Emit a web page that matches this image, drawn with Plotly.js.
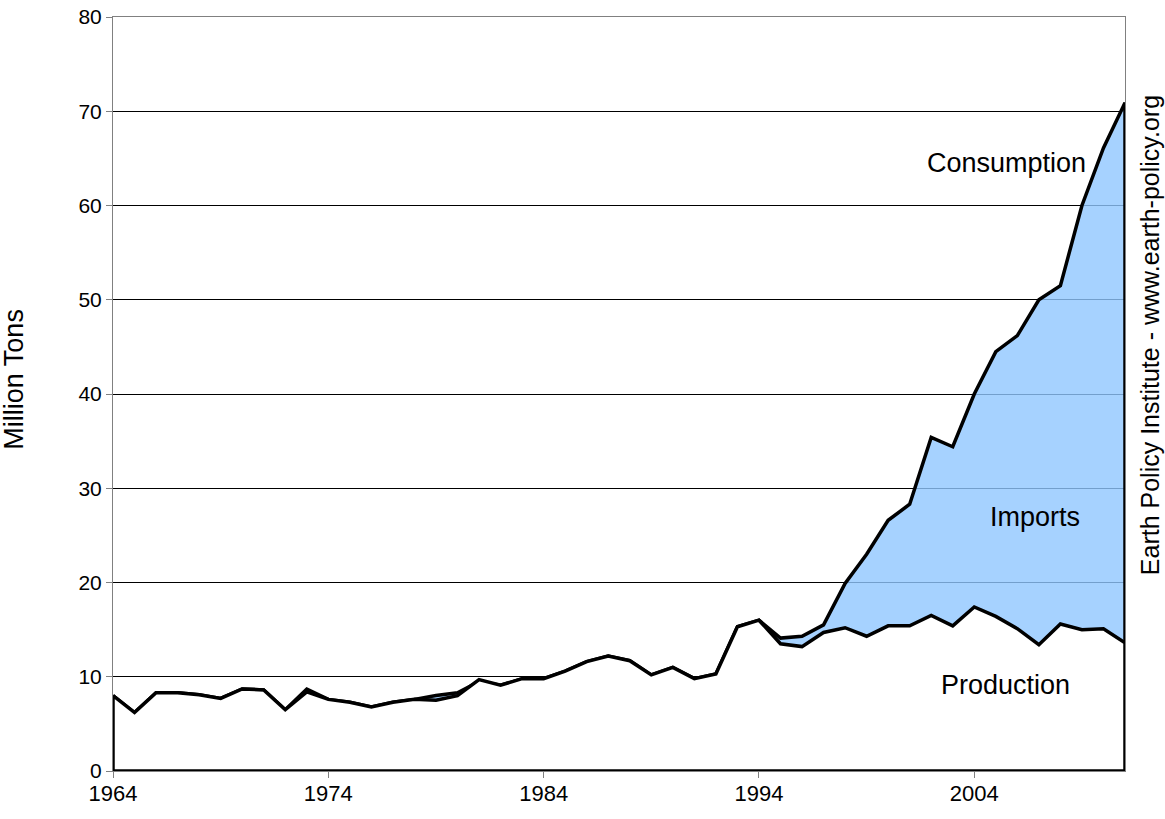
<!DOCTYPE html>
<html>
<head>
<meta charset="utf-8">
<script src="https://cdn.plot.ly/plotly-3.0.1.min.js"></script>
<style>html,body{margin:0;padding:0;background:#fff;}#chart{width:1165px;height:819px;}</style>
</head>
<body>
<div id="chart"></div>
<script>
const years = [1964,1965,1966,1967,1968,1969,1970,1971,1972,1973,1974,1975,1976,1977,1978,1979,1980,1981,1982,1983,1984,1985,1986,1987,1988,1989,1990,1991,1992,1993,1994,1995,1996,1997,1998,1999,2000,2001,2002,2003,2004,2005,2006,2007,2008,2009,2010,2011];
const production = [8.0,6.2,8.3,8.3,8.1,7.7,8.7,8.6,6.5,8.4,7.6,7.3,6.8,7.3,7.6,7.5,8.0,9.7,9.1,9.8,9.8,10.6,11.6,12.2,11.7,10.2,11.0,9.8,10.3,15.3,16.0,13.5,13.2,14.7,15.2,14.3,15.4,15.4,16.5,15.4,17.4,16.4,15.1,13.4,15.6,15.0,15.1,13.6];
const consumption = [8.0,6.2,8.3,8.3,8.1,7.7,8.7,8.6,6.5,8.7,7.6,7.3,6.8,7.3,7.6,8.0,8.3,9.5,9.1,9.8,9.8,10.6,11.6,12.2,11.7,10.2,11.0,9.8,10.3,15.3,16.0,14.1,14.3,15.5,19.9,23.0,26.6,28.3,35.4,34.4,40.0,44.5,46.2,50.0,51.5,60.0,66.1,70.9];
const xTicks = [1964,1974,1984,1994,2004];
const yTicks = [0,10,20,30,40,50,60,70,80];
const labels = [
  {text:'Consumption', year:2005.5, value:64.5},
  {text:'Imports', year:2006.8, value:27.0},
  {text:'Production', year:2005.45, value:9.1}
];
const sourceText = 'Earth Policy Institute - www.earth-policy.org';
const yTitle = 'Million Tons';

function closed(xs, ys) {
  return {
    x: xs.concat([xs[xs.length-1], xs[0], xs[0]]),
    y: ys.concat([0, 0, ys[0]])
  };
}
const c = closed(years, consumption);
const p = closed(years, production);
const font = 'Liberation Sans, Arial, sans-serif';

const traces = [
  {x:c.x, y:c.y, type:'scatter', mode:'lines', fill:'toself',
   fillcolor:'rgba(144,199,255,0.8)', line:{color:'#000', width:3.5}, hoverinfo:'skip', showlegend:false},
  {x:p.x, y:p.y, type:'scatter', mode:'lines', fill:'toself',
   fillcolor:'#ffffff', line:{color:'#000', width:3.5}, hoverinfo:'skip', showlegend:false}
];

const annotations = labels.map(l => ({
  x:l.year, y:l.value, xref:'x', yref:'y', text:l.text, showarrow:false,
  font:{family:font, size:27, color:'#000'}
}));
annotations.push({
  x:1, y:0.578, xref:'paper', yref:'paper', xanchor:'center', yanchor:'middle', xshift:25,
  text:sourceText, showarrow:false, textangle:-90, font:{family:font, size:25, color:'#000'}
});
annotations.push({
  x:0, y:0.519, xref:'paper', yref:'paper', xanchor:'center', yanchor:'middle', xshift:-99,
  text:yTitle, showarrow:false, textangle:-90, font:{family:font, size:27, color:'#000'}
});

const layout = {
  width:1165, height:819,
  margin:{l:113, r:40, t:17, b:48},
  paper_bgcolor:'#fff', plot_bgcolor:'#fff',
  showlegend:false,
  font:{family:font, size:22, color:'#000'},
  xaxis:{range:[1964,2011], tickvals:xTicks, ticktext:xTicks.map(String),
    ticks:'outside', ticklen:6, tickcolor:'#808080', showgrid:false, zeroline:false,
    showline:true, linecolor:'#808080', linewidth:1, mirror:true, ticklabelstandoff:-3,
    tickfont:{family:font, size:22, color:'#000'}},
  yaxis:{range:[0,80], tickvals:yTicks, ticks:'outside', ticklen:6, tickcolor:'#808080',
    showgrid:true, gridcolor:'#000', gridwidth:1, zeroline:false,
    showline:true, linecolor:'#808080', linewidth:1, mirror:true,
    tickfont:{family:font, size:21, color:'#000'}},
  annotations:annotations
};
Plotly.newPlot('chart', traces, layout, {staticPlot:true});
</script>
</body>
</html>
